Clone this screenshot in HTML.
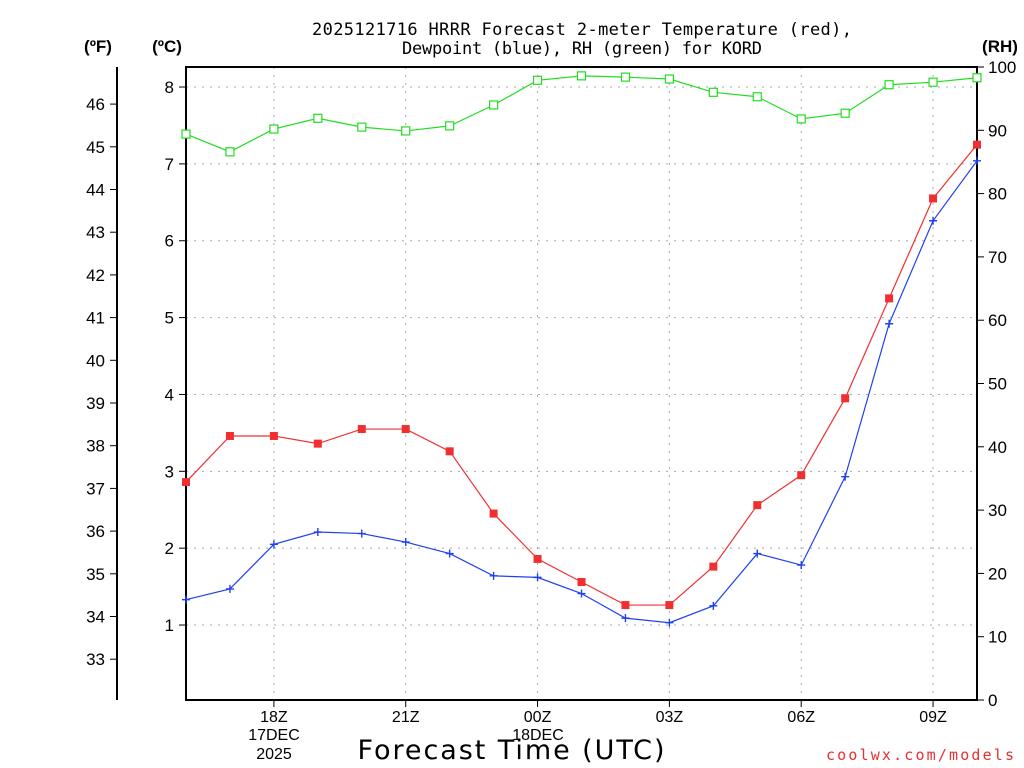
<!DOCTYPE html>
<html><head><meta charset="utf-8"><style>
body{margin:0;background:#fff;}
svg{display:block;font-family:"Liberation Sans",sans-serif;}
</style></head><body>
<svg id="chart" width="1024" height="768">
<text x="582" y="35" text-anchor="middle" font-family="DejaVu Sans Mono, Liberation Mono, monospace" font-size="17" textLength="540">2025121716 HRRR Forecast 2-meter Temperature (red),</text>
<text x="582" y="54" text-anchor="middle" font-family="DejaVu Sans Mono, Liberation Mono, monospace" font-size="17" textLength="360">Dewpoint (blue), RH (green) for KORD</text>
<text x="98" y="52" text-anchor="middle" font-size="17" font-weight="bold">(ºF)</text>
<text x="167" y="52" text-anchor="middle" font-size="17" font-weight="bold">(ºC)</text>
<text x="1000" y="52" text-anchor="middle" font-size="17" font-weight="bold">(RH)</text>
<text x="511" y="759" text-anchor="middle" font-family="DejaVu Sans, sans-serif" font-size="27" textLength="307">Forecast Time (UTC)</text>
<text x="1014" y="760" text-anchor="end" font-family="DejaVu Sans Mono, monospace" font-size="15" textLength="188" fill="#e83030">coolwx.com/models</text>
<g id="grid"></g><g id="axes"></g><g id="series"></g>
</svg>
<script>
const hours=[16,17,18,19,20,21,22,23,24,25,26,27,28,29,30,31,32,33,34];
const tempC=[2.86,3.46,3.46,3.36,3.55,3.55,3.26,2.45,1.86,1.56,1.26,1.26,1.76,2.56,2.95,3.95,5.25,6.55,7.25];
const dewC=[1.33,1.47,2.05,2.21,2.19,2.08,1.93,1.64,1.62,1.41,1.09,1.03,1.25,1.93,1.78,2.93,4.92,6.26,7.04];
const rh=[89.4,86.6,90.2,91.9,90.5,89.9,90.7,94.0,97.9,98.6,98.4,98.1,96.0,95.3,91.8,92.7,97.2,97.6,98.3];
const cTicks=[1,2,3,4,5,6,7,8];
const fTicks=[33,34,35,36,37,38,39,40,41,42,43,44,45,46];
const rhTicks=[0,10,20,30,40,50,60,70,80,90,100];
const xTickHours=[18,21,24,27,30,33];
const xTickLabels=["18Z","21Z","00Z","03Z","06Z","09Z"];
const L=186,R=977,T=67,B=700;
const X=h=>L+(h-16)*(R-L)/18;
const YC=c=>701.9-c*76.86;
const YF=f=>YC((f-32)/1.8);
const YR=r=>B-r*(B-T)/100;
const NS="http://www.w3.org/2000/svg";
function mk(tag,attrs,parent,txt){const e=document.createElementNS(NS,tag);for(const k in attrs)e.setAttribute(k,attrs[k]);if(txt!==undefined)e.textContent=txt;document.getElementById(parent).appendChild(e);return e;}
cTicks.forEach(c=>{const l=mk('line',{x1:L,x2:R,y1:YC(c),y2:YC(c),stroke:'#aaa','stroke-dasharray':'2,6'},'grid');

const t=mk('line',{x1:L-7,x2:L,y1:YC(c),y2:YC(c),stroke:'#000'},'axes');
const tx=mk('text',{x:L-12,y:YC(c)+6,'text-anchor':'end','font-size':'17'},'axes',c);});
xTickHours.forEach((h,i)=>{const l=mk('line',{x1:X(h),x2:X(h),y1:T,y2:B,stroke:'#aaa','stroke-dasharray':'2,6'},'grid');

const t=mk('line',{x1:X(h),x2:X(h),y1:B,y2:B+7,stroke:'#000'},'axes');
const tx=mk('text',{x:X(h),y:722,'text-anchor':'middle','font-size':'16'},'axes',xTickLabels[i]);});
[[274,740,"17DEC"],[274,759,"2025"],[538,740,"18DEC"]].forEach(d=>{const tx=mk('text',{x:d[0],y:d[1],'text-anchor':'middle','font-size':'16'},'axes',d[2]);});
const fa=mk('line',{x1:117,x2:117,y1:67,y2:700,stroke:'#000','stroke-width':2},'axes');
fTicks.forEach(f=>{const t=mk('line',{x1:110,x2:117,y1:YF(f),y2:YF(f),stroke:'#000'},'axes');
const tx=mk('text',{x:105,y:YF(f)+6,'text-anchor':'end','font-size':'17'},'axes',f);});
rhTicks.forEach(r=>{const t=mk('line',{x1:R,x2:R+7,y1:YR(r),y2:YR(r),stroke:'#000'},'axes');
const tx=mk('text',{x:988,y:YR(r)+6,'text-anchor':'start','font-size':'17'},'axes',r);});
const fr=mk('rect',{x:L,y:T,width:R-L,height:B-T,fill:'none',stroke:'#000','stroke-width':2},'axes');
function line(vals,yf,color,name){const p=mk('polyline',{points:vals.map((v,i)=>X(hours[i])+','+yf(v)).join(' '),fill:'none',stroke:color,'stroke-width':1.2},'series');}
line(rh,YR,'#22dd22','rh-line');line(tempC,YC,'#f03030','temperature-line');line(dewC,YC,'#2040f0','dewpoint-line');
rh.forEach((v,i)=>{const m=mk('rect',{x:X(hours[i])-4,y:YR(v)-4,width:8,height:8,fill:'#fff',stroke:'#22dd22','stroke-width':1.2},'series');});
tempC.forEach((v,i)=>{const m=mk('rect',{x:X(hours[i])-4,y:YC(v)-4,width:8,height:8,fill:'#f03030'},'series');});
dewC.forEach((v,i)=>{const x=X(hours[i]),y=YC(v);const m=mk('path',{d:`M${x-4},${y}H${x+4}M${x},${y-4}V${y+4}`,stroke:'#2040f0','stroke-width':1.4},'series');});
</script>
</body></html>
